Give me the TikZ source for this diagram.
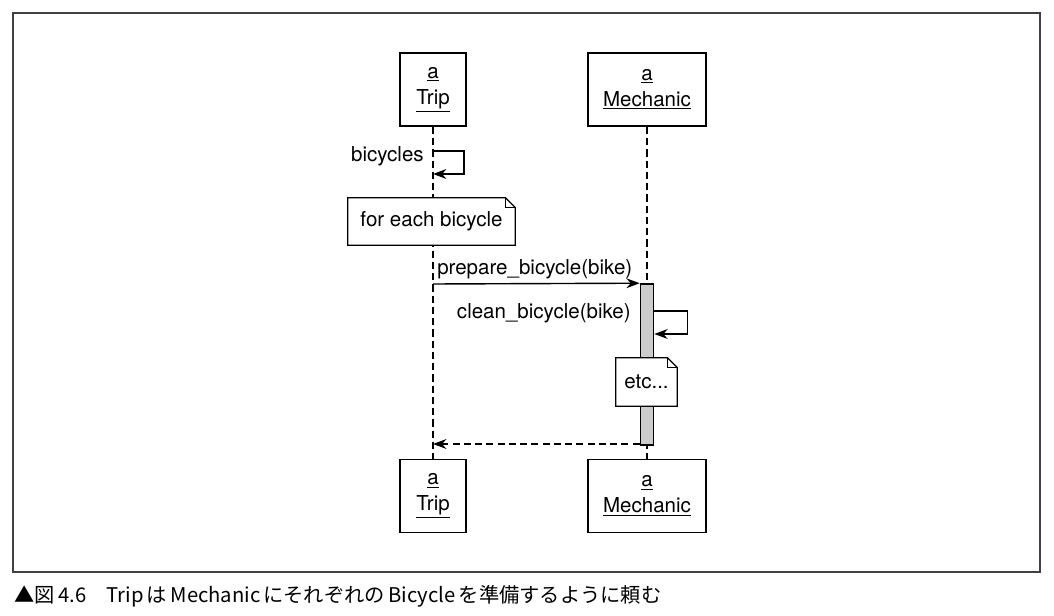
\documentclass[tikz,border=0pt]{standalone}
\usepackage{fontspec}
\setmainfont{TeX Gyre Heros}
\newfontfamily\jpfont{Noto Sans CJK JP}
\usetikzlibrary{arrows.meta}

\begin{document}
\begin{tikzpicture}[x=0.025cm, y=-0.025cm, every node/.style={font=\fontsize{14.6}{17.5}\selectfont}]
    % Styles
    \tikzstyle{object} = [rectangle, draw=black, line width=1.4pt, minimum height=1.825cm, align=center, fill=white, inner sep=0pt, font=\fontsize{14.6}{18.5}\selectfont]
    \tikzstyle{lifeline} = [dash pattern=on 5pt off 3pt, line width=1pt]
    \tikzstyle{msg} = [-{Stealth[length=9.5pt, width=7pt]}, line width=1pt]
    \tikzstyle{reply} = [msg, dash pattern=on 5pt off 3pt]
    \tikzstyle{activation} = [rectangle, draw=black, line width=1.1pt, fill=gray!40, minimum width=0.325cm, minimum height=4.025cm, inner sep=0pt]
    \tikzstyle{notebox} = [rectangle, fill=white, inner sep=0pt]
    \tikzstyle{noteline} = [line width=0.9pt, line join=miter]
    \tikzstyle{label} = [inner sep=0pt]

    \useasboundingbox (0,0) rectangle (1054,616);
    \draw[line width=0.9pt, draw=black!75] (13,13) rectangle (1040,572);

    % Objects
    \node[object, minimum width=1.65cm] (tripT) at (433,89.5) {\underline{a}\\\underline{Trip}};
    \node[object, minimum width=2.95cm] (mechT) at (647,89.5) {\underline{a}\\\underline{Mechanic}};
    \node[object, minimum width=1.65cm] (tripB) at (433,496) {\underline{a}\\\underline{Trip}};
    \node[object, minimum width=2.95cm] (mechB) at (647,496) {\underline{a}\\\underline{Mechanic}};

    % Lifelines
    \draw[lifeline] (tripT) -- (tripB);
    \draw[lifeline] (mechT) -- (mechB);

    % Activation
    \node[activation] (act) at (647,364.5) {};

    % Notes
    \node[notebox, minimum width=4.175cm, minimum height=1.175cm] (each) at (431.5,221.5) {for each bicycle};
    \draw[noteline] (each.south west) -- (each.north west) -- ([xshift=-7pt]each.north east) -- ([yshift=-7pt]each.north east) -- (each.south east) -- cycle;
    \draw[noteline, line width=0.6pt] ([xshift=-7pt]each.north east) |- ([yshift=-7pt]each.north east);
    \node[notebox, minimum width=1.525cm, minimum height=1.2cm] (etc) at (646.5,382) {etc...};
    \draw[noteline] (etc.south west) -- (etc.north west) -- ([xshift=-7pt]etc.north east) -- ([yshift=-7pt]etc.north east) -- (etc.south east) -- cycle;
    \draw[noteline, line width=0.6pt] ([xshift=-7pt]etc.north east) |- ([yshift=-7pt]etc.north east);

    % Messages
    \coordinate (b0) at (433,151);
    \coordinate (b1) at (433,174);
    \draw[msg] (b0) -- ++(31,0) |- (b1);
    \node[label, anchor=east] (bicycles) at (424,156) {bicycles};

    \coordinate (p0) at (433,284);
    \draw[msg] (p0) -- (act.north west);
    \node[label, anchor=west] (prepare) at (437,269) {prepare\_bicycle(bike)};

    \coordinate (c0) at (act.east |- 0,311);
    \coordinate (c1) at (act.east |- 0,334);
    \draw[msg] (c0) -- ++(33,0) |- (c1);
    \node[label, anchor=east] (clean) at (631,313) {clean\_bicycle(bike)};

    \coordinate (r0) at (act.west |- 0,444);
    \coordinate (r1) at (433,444);
    \draw[reply] (r0) -- (r1);

    % Caption
    \node[anchor=west, inner sep=0pt, font=\jpfont\fontsize{14.4}{17}\selectfont] (caption) at (14,596) {▲図\,4.6\quad Trip\,は\,Mechanic\,にそれぞれの\,Bicycle\,を準備するように頼む};
\end{tikzpicture}
\end{document}
